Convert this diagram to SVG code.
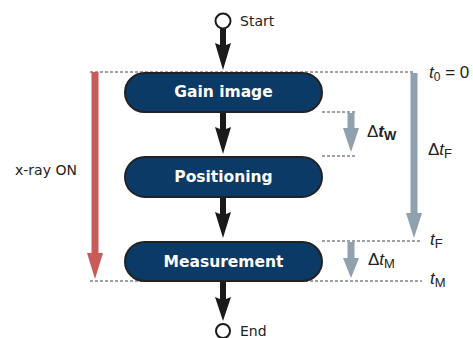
<svg xmlns="http://www.w3.org/2000/svg" width="473" height="338" viewBox="0 0 473 338">
<defs>
<style>
.dash{stroke:#444;stroke-width:1;stroke-dasharray:3 2;fill:none}
.box{fill:#0b3a66;stroke:#222;stroke-width:2}
.btxt{font-family:"DejaVu Sans",Verdana,sans-serif;font-weight:bold;font-size:15.5px;fill:#fff;text-anchor:middle}
.lbl{font-family:"DejaVu Sans",Verdana,sans-serif;font-size:14px;fill:#222}
.math{font-family:"Liberation Sans",Arial,sans-serif;font-size:17px;fill:#222}
.blk{fill:#1a1a1a}
.gry{fill:#8fa0ae}
.red{fill:#c95b5b}
</style>
</defs>
<g id="guides">
<line class="dash" x1="90" y1="72" x2="414" y2="72"/>
<line class="dash" x1="322" y1="112" x2="357" y2="112"/>
<line class="dash" x1="322" y1="156" x2="357" y2="156"/>
<line class="dash" x1="322" y1="241" x2="422" y2="241"/>
<line class="dash" x1="90" y1="281" x2="422" y2="281"/>
</g>
<g id="connectors">
<path class="blk" d="M220,29 h6 v16 l5,-2 l-8,27 l-8,-27 l5,2 z"/>
<path class="blk" d="M220,112 h6 v17 l5,-2 l-8,27 l-8,-27 l5,2 z"/>
<path class="blk" d="M220,197 h6 v17 l5,-2 l-8,26 l-8,-26 l5,2 z"/>
<path class="blk" d="M220,281 h6 v18 l5,-2 l-8,24 l-8,-24 l5,2 z"/>
</g>
<g id="start">
<circle cx="223" cy="21" r="7.5" fill="#fff" stroke="#1a1a1a" stroke-width="2"/>
<text class="lbl" x="240" y="26">Start</text>
</g>
<g id="end">
<circle cx="223" cy="331" r="7" fill="#fff" stroke="#1a1a1a" stroke-width="2"/>
<text class="lbl" x="240" y="336">End</text>
</g>
<g id="gain">
<rect class="box" x="125" y="73" width="197" height="39" rx="19.5"/>
<text class="btxt" x="223.5" y="97">Gain image</text>
</g>
<g id="positioning">
<rect class="box" x="125" y="157" width="197" height="40" rx="20"/>
<text class="btxt" x="223.5" y="182">Positioning</text>
</g>
<g id="measurement">
<rect class="box" x="125" y="242" width="197" height="39" rx="19.5"/>
<text class="btxt" x="223.5" y="267">Measurement</text>
</g>
<g id="xray">
<path class="red" d="M91.5,72 h7 v181 h4.5 l-8,26 l-8,-26 h4.5 z"/>
<text class="lbl" x="15" y="175">x-ray ON</text>
</g>
<g id="timeline">
<path class="gry" d="M347.5,113 h7 v15 h4.5 l-8,24 l-8,-24 h4.5 z"/>
<path class="gry" d="M410.5,73 h7 v140 h4.5 l-8,25 l-8,-25 h4.5 z"/>
<path class="gry" d="M347.5,242 h7 v16 h4.5 l-8,20 l-8,-20 h4.5 z"/>
<text class="math" x="429" y="78"><tspan font-style="italic">t</tspan><tspan font-size="12" dy="3">0</tspan><tspan dy="-3"> = 0</tspan></text>
<text class="math" x="367" y="137">Δ<tspan font-style="italic" font-weight="bold">t</tspan><tspan font-size="13" font-weight="bold" dy="3">W</tspan></text>
<text class="math" x="428" y="155">Δ<tspan font-style="italic">t</tspan><tspan font-size="13" dy="3">F</tspan></text>
<text class="math" x="430" y="245"><tspan font-style="italic">t</tspan><tspan font-size="13" dy="3">F</tspan></text>
<text class="math" x="368" y="265">Δ<tspan font-style="italic">t</tspan><tspan font-size="13" dy="3">M</tspan></text>
<text class="math" x="430" y="284"><tspan font-style="italic">t</tspan><tspan font-size="13" dy="3">M</tspan></text>
</g>
</svg>
